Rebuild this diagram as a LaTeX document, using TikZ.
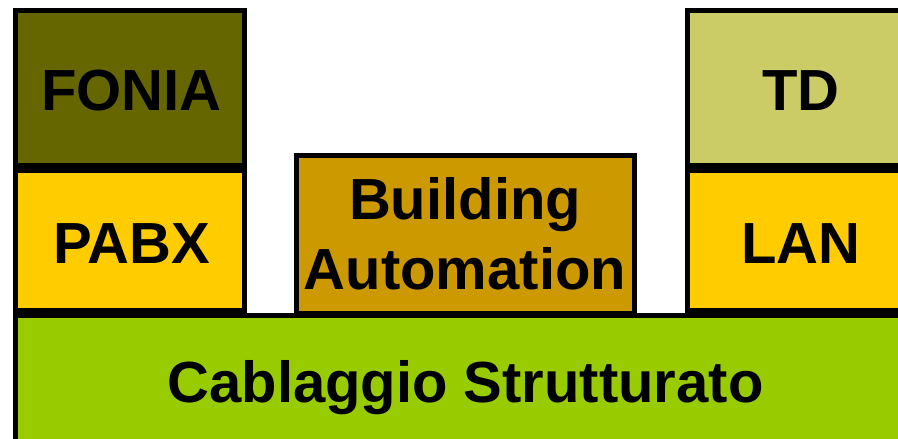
\documentclass[tikz,border=0pt]{standalone}
\usepackage{fontspec}
\setmainfont{Liberation Sans}
\definecolor{fonia}{HTML}{666600}
\definecolor{tdc}{HTML}{CCCC66}
\definecolor{yel}{HTML}{FFCC00}
\definecolor{bld}{HTML}{CC9900}
\definecolor{grn}{HTML}{99CC00}
\tikzset{
  blk/.style={draw=black, line width=5pt},
  lbl/.style={font=\fontsize{58}{70}\selectfont\bfseries, text=black, align=center, inner sep=0pt},
}
\begin{document}
\begin{tikzpicture}[x=1pt,y=-1pt]
\clip (0,0) rectangle (898,439);
\fill[white] (0,0) rectangle (898,439);
% boxes
\draw[blk, fill=grn] (15.5,315.5) rectangle (914.5,445);
\draw[blk, fill=fonia] (15.5,10.5) rectangle (244.5,165.5);
\draw[blk, fill=yel] (15.5,170.5) rectangle (244.5,310.5);
\draw[blk, fill=bld] (296.5,155.5) rectangle (634.5,313);
\draw[blk, fill=tdc] (687.5,10.5) rectangle (912.5,165.5);
\draw[blk, fill=yel] (687.5,170.5) rectangle (912.5,310.5);
% labels
\node[lbl, anchor=base] (fonia) at (131.5,110) {FONIA};
\node[lbl, anchor=base] (pabx) at (131.5,263) {PABX};
\node[lbl] (ba) at (465,234) {Building\\Automation};
\node[lbl, anchor=base] (td) at (801,110) {TD};
\node[lbl, anchor=base] (lan) at (801,263) {LAN};
\node[lbl, anchor=base] (cab) at (465.5,402) {Cablaggio Strutturato};
\end{tikzpicture}
\end{document}
